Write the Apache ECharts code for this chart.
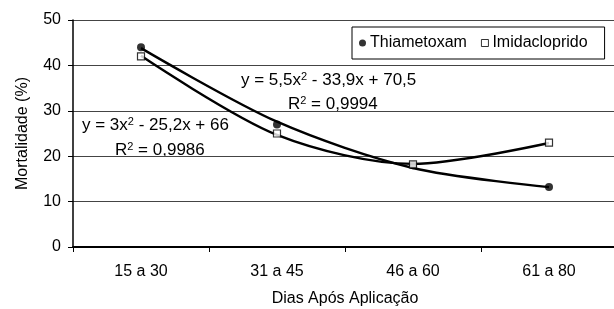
<!DOCTYPE html>
<html>
<head>
<meta charset="utf-8">
<script src="https://cdn.jsdelivr.net/npm/echarts@6/dist/echarts.min.js"></script>
<style>
  html, body { margin: 0; padding: 0; background: #fff; }
  #chart { width: 614px; height: 309px; }
</style>
</head>
<body>
<div id="chart"></div>
<script>
// categories (days after application)
const categories = ['15 a 30', '31 a 45', '46 a 60', '61 a 80'];
// observed mortality (%)
const thiametoxam = [44, 27, 18, 13.2];
const imidacloprido = [42, 25, 18.2, 23];
// polynomial trend values read at each category
const thiaTrend = [43.8, 27.6, 17.4, 13.2];
const imidaTrend = [42.1, 24.7, 18.3, 22.9];
const yTicks = { min: 0, max: 50, interval: 10 };

const font = 'Liberation Sans, Arial, sans-serif';
const fs = 16;
const chart = echarts.init(document.getElementById('chart'), null, { renderer: 'canvas' });

const eqStyle = {
  a: { fontSize: 17, fontFamily: font, color: '#000' },
  s: { fontSize: 11, fontFamily: font, color: '#000', padding: [0, 0, 8, 0] }
};

chart.setOption({
  animation: false,
  backgroundColor: '#fff',
  grid: { left: 73, top: 20, width: 544, height: 227, outerBoundsMode: 'none', containLabel: false },
  legend: {
    data: [
      { name: 'Thiametoxam', icon: 'circle', itemStyle: { color: '#000' } },
      { name: 'Imidacloprido', icon: 'rect', itemStyle: { color: '#fff', borderColor: '#000', borderWidth: 1 } }
    ],
    left: 352, top: 27,
    itemWidth: 7, itemHeight: 7, itemGap: 14,
    padding: [8, 17, 8, 7],
    borderColor: '#000', borderWidth: 1,
    backgroundColor: '#fff',
    textStyle: { fontSize: fs, fontFamily: font, color: '#000', padding: [0, 0, 0, -1] }
  },
  xAxis: {
    type: 'category',
    data: categories,
    name: 'Dias Após Aplicação',
    nameLocation: 'middle',
    nameGap: 44,
    nameTextStyle: { fontSize: fs, fontFamily: font, color: '#000' },
    axisLine: { lineStyle: { color: '#000', width: 2 } },
    axisTick: { show: true, length: 5, lineStyle: { color: '#000' } },
    axisLabel: { fontSize: fs, fontFamily: font, color: '#000', margin: 17 }
  },
  yAxis: {
    type: 'value',
    min: yTicks.min, max: yTicks.max, interval: yTicks.interval,
    name: 'Mortalidade (%)',
    nameLocation: 'middle',
    nameGap: 42,
    nameTextStyle: { fontSize: fs, fontFamily: font, color: '#000' },
    axisLine: { show: true, lineStyle: { color: '#000', width: 1.5 } },
    axisTick: { show: true, length: 5, lineStyle: { color: '#000' } },
    axisLabel: { fontSize: fs, fontFamily: font, color: '#000', margin: 12 },
    splitLine: { lineStyle: { color: '#444', width: 1 } }
  },
  series: [
    {
      name: 'Thiametoxam',
      type: 'scatter',
      data: thiametoxam,
      symbol: 'circle', symbolSize: 8,
      itemStyle: { color: '#000' },
      z: 5
    },
    {
      name: 'Imidacloprido',
      type: 'scatter',
      data: imidacloprido,
      symbol: 'rect', symbolSize: 7,
      itemStyle: { color: '#fff', borderColor: '#000', borderWidth: 1.2 },
      z: 5
    },
    {
      name: 'thiaTrend',
      type: 'line',
      data: thiaTrend,
      smooth: 0.3,
      showSymbol: false,
      lineStyle: { color: '#000', width: 2.4 }
    },
    {
      name: 'imidaTrend',
      type: 'line',
      data: imidaTrend,
      smooth: 0.3,
      showSymbol: false,
      lineStyle: { color: '#000', width: 2.4 }
    }
  ],
  graphic: [
    { type: 'text', left: 241, top: 71, style: { text: '{a|y = 5,5x}{s|2}{a| - 33,9x + 70,5}', rich: eqStyle } },
    { type: 'text', left: 288, top: 95, style: { text: '{a|R}{s|2}{a| = 0,9994}', rich: eqStyle } },
    { type: 'text', left: 82, top: 116, style: { text: '{a|y = 3x}{s|2}{a| - 25,2x + 66}', rich: eqStyle } },
    { type: 'text', left: 115, top: 141, style: { text: '{a|R}{s|2}{a| = 0,9986}', rich: eqStyle } }
  ]
});
</script>
</body>
</html>
